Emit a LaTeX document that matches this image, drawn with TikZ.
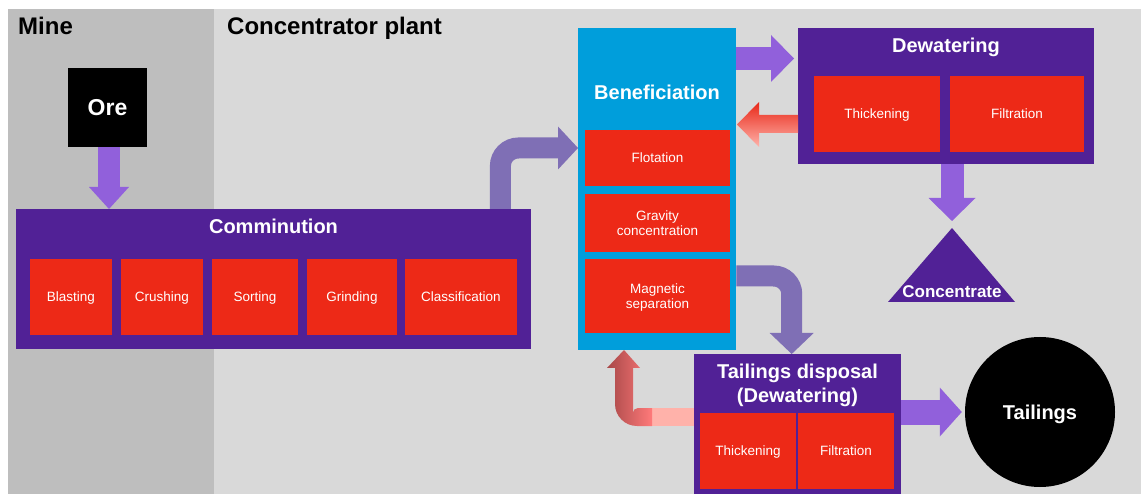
\documentclass[tikz,border=0pt]{standalone}
\usepackage{fontspec}
\setmainfont{Liberation Sans}
\usetikzlibrary{arrows.meta}

\definecolor{minegray}{RGB}{190,190,190}
\definecolor{plantgray}{RGB}{217,217,217}
\definecolor{procpurple}{RGB}{81,33,150}
\definecolor{stepred}{RGB}{237,41,23}
\definecolor{benblue}{RGB}{0,158,219}
\definecolor{flowpurple}{RGB}{145,96,219}
\definecolor{flowlilac}{RGB}{127,111,181}
\definecolor{backred}{RGB}{232,40,24}
\definecolor{backpink}{RGB}{255,178,170}
\definecolor{backdark}{RGB}{168,72,72}
\definecolor{backmid}{RGB}{255,122,122}

\tikzset{
	procbox/.style={fill=procpurple, inner sep=0pt, anchor=north west},
	stepbox/.style={fill=stepred, text=white, inner sep=0pt, text depth=0pt, align=center, font=\fontsize{13.5}{15}\selectfont},
	boxtitle/.style={text=white, align=center, text depth=0pt, font=\bfseries\fontsize{20}{24}\selectfont},
	area/.style={anchor=base west, inner sep=0pt, font=\bfseries\fontsize{24}{28}\selectfont},
	flow/.style={draw=flowpurple, line width=23pt, -{Triangle[length=23pt, width=47pt, line width=0pt]}},
	bendflow/.style={draw=flowlilac, line width=21pt, rounded corners=18pt, -{Triangle[length=20pt, width=43pt, line width=0pt]}},
}

\begin{document}
\begin{tikzpicture}[x=1pt, y=-1pt]
			%%%%% START %%%%%
			\useasboundingbox (0,0) rectangle (1141,494);
			\fill[white] (0,0) rectangle (1141,494);
			\fill[minegray] (8,9) rectangle (214,494);
			\fill[plantgray] (214,9) rectangle (1141,494);
			
			\node[area] (mine) at (18,35) {Mine};
			\node[area] (plant) at (227,35) {Concentrator plant};
			
			\node[fill=black, text=white, minimum size=79pt, inner sep=0pt, font=\bfseries\fontsize{23}{27}\selectfont] (ore) at (107.5,107.5) {Ore};
			
			% comminution
			\node[procbox, minimum width=515pt, minimum height=140pt] (comm) at (16,209) {};
			\node[boxtitle] (commtitle) at (273.5,226) {Comminution};
			\node[stepbox, minimum width=82pt, minimum height=76pt] (blast) at (71,297) {Blasting};
			\node[stepbox, minimum width=82pt, minimum height=76pt] (crush) at (162,297) {Crushing};
			\node[stepbox, minimum width=86pt, minimum height=76pt] (sort) at (255,297) {Sorting};
			\node[stepbox, minimum width=90pt, minimum height=76pt] (grind) at (352,297) {Grinding};
			\node[stepbox, minimum width=112pt, minimum height=76pt] (class) at (461,297) {Classification};
			
			% beneficiation
			\node[fill=benblue, inner sep=0pt, anchor=north west, minimum width=158pt, minimum height=322pt] (ben) at (578,28) {};
			\node[boxtitle] (bentitle) at (657,92) {Beneficiation};
			\node[stepbox, minimum width=145pt, minimum height=56pt] (flot) at (657.5,158) {Flotation};
			\node[stepbox, minimum width=145pt, minimum height=58pt] (grav) at (657.5,223) {Gravity\\concentration};
			\node[stepbox, minimum width=145pt, minimum height=74pt] (mag) at (657.5,296) {Magnetic\\separation};
			
			% dewatering
			\node[procbox, minimum width=296pt, minimum height=136pt] (dew) at (798,28) {};
			\node[boxtitle] (dewtitle) at (946,45) {Dewatering};
			\node[stepbox, minimum width=126pt, minimum height=76pt] (dthick) at (877,114) {Thickening};
			\node[stepbox, minimum width=134pt, minimum height=76pt] (dfilt) at (1017,114) {Filtration};
			
			\fill[procpurple] (952,228) -- (1015,302) -- (888,302) -- cycle;
			\coordinate (conctop) at (952,228);
			\node[text=white, font=\bfseries\fontsize{17}{20}\selectfont] (conc) at (952,292) {Concentrate};
			
			% tailings disposal
			\node[procbox, minimum width=207pt, minimum height=140pt] (tail) at (694,354) {};
			\node[boxtitle] (tailtitle) at (797.5,383) {Tailings disposal\\(Dewatering)};
			\node[stepbox, minimum width=96pt, minimum height=76pt] (tthick) at (748,451) {Thickening};
			\node[stepbox, minimum width=96pt, minimum height=76pt] (tfilt) at (846,451) {Filtration};
			
			\node[circle, fill=black, text=white, minimum size=150pt, inner sep=0pt, text depth=0pt, font=\bfseries\fontsize{20}{24}\selectfont] (tailc) at (1040,412) {Tailings};
			
			% flows
			\draw[flow, line width=22pt, -{Triangle[length=22pt, width=40pt, line width=0pt]}] ([xshift=1.5pt]ore.south) -- ([xshift=1.5pt]ore.south |- comm.north);
			\draw[bendflow] ([xshift=-31pt]comm.north east) |- ([yshift=10pt]flot.west -| ben.west);
			\draw[flow, shorten >=4pt] ([yshift=-30.5pt]ben.north east) -- ([yshift=-30.5pt]dew.north west);
			\draw[flow, shorten >=7pt] (conctop |- dew.south) -- (conctop);
			\draw[bendflow, -{Triangle[length=21pt, width=44pt, line width=0pt]}] ([yshift=20pt]mag.east -| ben.east) -| ([xshift=-6pt]tail.north);
			\draw[flow, line width=25pt, -{Triangle[length=22pt, width=49pt, line width=0pt]}, shorten >=3pt] (tailc.west -| tail.east) -- (tailc.west);
			
			% return streams
			\shade[top color=backred, bottom color=backpink] (798,115) -- (759,115) -- (759,102) -- (737,124.5) -- (759,147) -- (759,133) -- (798,133) -- cycle;
			\fill[backpink] (652,408) rectangle (694,426);
			\shade[left color=backdark, right color=backmid] (652,408) -- (638,408) arc (-90:-180:5) -- (633,368) -- (640,368) -- (624,350) -- (607,368) -- (615,368) -- (615,404) arc (180:90:22) -- (652,426) -- cycle;
			
			%%%%% END %%%%%
\end{tikzpicture}
\end{document}
